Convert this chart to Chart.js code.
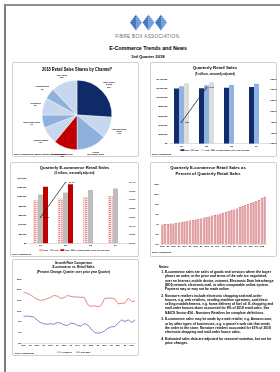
<!DOCTYPE html>
<html>
<head>
<meta charset="utf-8">
<title>E-Commerce Trends and News</title>
<script src="https://cdn.jsdelivr.net/npm/chart.js@4.4.1/dist/chart.umd.min.js"></script>
<style>
  html, body { margin: 0; padding: 0; background: #fff; }
  body { width: 280px; height: 372px; position: relative; overflow: hidden; font-family: "Liberation Sans", Arial, sans-serif; color: #000; }
  .frame { position: absolute; left: 4px; top: 4px; width: 300px; height: 400px; border-left: 2px solid #7c7c7c; border-top: 2px solid #8e8e8e; }
  .panel { position: absolute; border: 1px solid #cfcfcf; border-radius: 2px; box-sizing: border-box; }
  .box { position: absolute; }
  .src { position: absolute; font-size: 1.7px; font-weight: bold; white-space: nowrap; }
  .hdr { position: absolute; left: 0; width: 296px; text-align: center; white-space: nowrap; }
  .notes { position: absolute; left: 159px; top: 265px; width: 116px; font-size: 3.3px; line-height: 4.2px; font-weight: bold; }
  .notes ol { margin: 1px 0 0 0; padding-left: 6px; }
  .notes li { margin-bottom: 2.6px; }
</style>
</head>
<body>
<div class="frame"></div>

<svg style="position:absolute;left:130px;top:14px" width="37" height="17" viewBox="0 0 37 17">
  <defs>
    <pattern id="stD" width="2" height="1.9" patternUnits="userSpaceOnUse"><rect width="2" height="1.5" fill="#1a56ac"/></pattern>
    <pattern id="stL" width="2" height="1.9" patternUnits="userSpaceOnUse"><rect width="2" height="1.5" fill="#4f86d3"/></pattern>
  </defs>
  <polygon points="6,0.5 6,16.5 0,8.5" fill="url(#stD)"/>
  <polygon points="6,0.5 12,8.5 6,16.5" fill="url(#stL)"/>
  <polygon points="18.5,0.5 18.5,16.5 12.5,8.5" fill="url(#stD)"/>
  <polygon points="18.5,0.5 24.5,8.5 18.5,16.5" fill="url(#stL)"/>
  <polygon points="31,0.5 31,16.5 25,8.5" fill="url(#stD)"/>
  <polygon points="31,0.5 37,8.5 31,16.5" fill="url(#stL)"/>
</svg>
<div class="hdr" style="top:34px;font-size:4.6px;color:#6b6b6b;letter-spacing:0.35px">FIBRE BOX ASSOCIATION.</div>
<div class="hdr" style="top:45px;font-size:5.3px;font-weight:bold">E-Commerce Trends and News</div>
<div class="hdr" style="top:53.5px;font-size:4.2px;font-weight:bold">3rd Quarter 2018</div>

<div class="panel" style="left:12px;top:62px;width:127px;height:95px"></div>
<div class="panel" style="left:150px;top:62px;width:127px;height:95px"></div>
<div class="panel" style="left:10px;top:162px;width:129px;height:95px"></div>
<div class="panel" style="left:150px;top:162px;width:127px;height:95px"></div>
<div class="panel" style="left:12px;top:259px;width:127px;height:97px"></div>

<div class="box" style="left:12px;top:62px;width:127px;height:95px"><canvas id="pie"></canvas></div>
<div class="box" style="left:150px;top:62px;width:130px;height:99px"><canvas id="retail"></canvas></div>
<div class="box" style="left:10px;top:162px;width:129px;height:99px"><canvas id="ecom"></canvas></div>
<div class="box" style="left:150px;top:162px;width:130px;height:95px"><canvas id="pct"></canvas></div>
<div class="box" style="left:12px;top:259px;width:127px;height:104px"><canvas id="growth"></canvas></div>

<div class="src" style="left:14px;top:152.5px">Source: Census Bureau; *Based on Monthly Retail Trade Survey</div>
<div class="src" style="left:152px;top:152.5px">Source: Census Bureau</div>
<div class="src" style="left:12px;top:252.5px">Source: Census Bureau</div>
<div class="src" style="left:152px;top:250.5px">Source: Census Bureau</div>
<div class="src" style="left:15px;top:351.5px">Source: Census Bureau</div>

<div class="notes">
  <div>Notes:</div>
  <ol>
    <li>E-commerce sales are sales of goods and services where the buyer places an order, or the price and terms of the sale are negotiated, over an Internet, mobile device, extranet, Electronic Data Interchange (EDI) network, electronic mail, or other comparable online system. Payment may or may not be made online.</li>
    <li>Nonstore retailers include electronic shopping and mail-order houses, e.g. web retailers, vending machine operators, and direct selling establishments, e.g. home delivery of fuel oil. E-shopping and mail-order houses alone accounted for 9% of 2018 retail sales. See NAICS Sector 454 - Nonstore Retailers for complete definitions.</li>
    <li>E-commerce sales may be made by a web retailer, e.g. Amazon.com, or by other types of businesses, e.g. a grocer's web site that sends the order to the store. Nonstore retailers accounted for 61% of 2018 electronic shopping and mail-order house sales.</li>
    <li>Estimated sales data are adjusted for seasonal variation, but not for price changes.</li>
  </ol>
</div>

<script>
// ---- data ----
const pieLabels = ['Motor vehicle\n& parts', 'Food & Beverage\nstores', 'General\nmerchandise stores', 'E-Shopping & Mail Order', 'Gasoline stations', 'Bldg/ supply stores', 'Drug stores', 'Clothing stores', 'Other stores'];
const pieShares = [26, 10, 14, 11, 8, 6, 8, 5, 12];
const pieColors = ['#0f2a66', '#c7d8ee', '#8eb0dd', '#c00000', '#c7d8ee', '#8eb0dd', '#c7d8ee', '#8eb0dd', '#c7d8ee'];

const retailQuarters = ['Q1', 'Q2', 'Q3', 'Q4'];
const retail2016 = [1195000, 1200000, 1212000, 1228000];
const retail2017 = [1245000, 1262000, 1270000, 1298000];
const retail2018 = [1306000, 1328000, null, null];
const retailChange = [4.5, 6.1, null, null];

const ecomQuarters = ['Q1', 'Q2', 'Q3', 'Q4'];
const ecom2016 = [92600, 96300, 99800, 101300];
const ecom2017 = [104900, 109200, 114100, 117700];
const ecom2018 = [121400, 126400, null, null];
const ecomChange = [15.6, 16.4, null, null];

const pctQuarters = [
  '2009 Q1', '2009 Q2', '2009 Q3', '2009 Q4', '2010 Q1', '2010 Q2', '2010 Q3', '2010 Q4',
  '2011 Q1', '2011 Q2', '2011 Q3', '2011 Q4', '2012 Q1', '2012 Q2', '2012 Q3', '2012 Q4',
  '2013 Q1', '2013 Q2', '2013 Q3', '2013 Q4', '2014 Q1', '2014 Q2', '2014 Q3', '2014 Q4',
  '2015 Q1', '2015 Q2', '2015 Q3', '2015 Q4', '2016 Q1', '2016 Q2', '2016 Q3', '2016 Q4',
  '2017 Q1', '2017 Q2', '2017 Q3', '2017 Q4', '2018 Q1', '2018 Q2'
];
const pctShare = [
  3.9, 4.0, 4.0, 4.1, 4.1, 4.2, 4.3, 4.4,
  4.5, 4.6, 4.7, 4.8, 4.9, 5.0, 5.1, 5.3,
  5.4, 5.5, 5.7, 5.8, 5.9, 6.1, 6.2, 6.4,
  6.6, 6.8, 6.9, 7.1, 7.4, 7.6, 7.8, 8.0,
  8.2, 8.4, 8.6, 8.8, 9.2, 9.5
];

const growthQuarters = [
  '2010 Q1', '2010 Q2', '2010 Q3', '2010 Q4', '2011 Q1', '2011 Q2', '2011 Q3', '2011 Q4',
  '2012 Q1', '2012 Q2', '2012 Q3', '2012 Q4', '2013 Q1', '2013 Q2', '2013 Q3', '2013 Q4',
  '2014 Q1', '2014 Q2', '2014 Q3', '2014 Q4', '2015 Q1', '2015 Q2', '2015 Q3', '2015 Q4',
  '2016 Q1', '2016 Q2', '2016 Q3', '2016 Q4', '2017 Q1', '2017 Q2', '2017 Q3', '2017 Q4',
  '2018 Q1', '2018 Q2'
];
const growthEcom = [
  18.7, 18.4, 17.7, 16.6, 15.6, 15.0, 15.2, 15.8,
  16.4, 17.3, 17.0, 15.9, 16.2, 17.3, 16.9, 16.6,
  16.6, 16.4, 16.4, 13.0, 12.2, 12.5, 12.0, 12.7,
  15.9, 16.1, 16.1, 15.8, 13.4, 13.6, 13.7, 16.1,
  14.5, 14.7
];
const growthRetail = [
  7.5, 7.7, 7.5, 7.3, 5.9, 4.7, 4.1, 3.9,
  4.1, 3.9, 4.7, 4.4, 3.6, 3.3, 4.4, 4.2,
  3.3, 3.0, 4.2, 3.6, 1.7, 0.2, -0.3, 0.0,
  0.8, 2.0, 2.7, 2.8, 4.4, 5.9, 5.2, 5.9,
  4.7, 5.9
];

// ---- defaults ----
Chart.defaults.font.family = '"Liberation Sans", Arial, sans-serif';
Chart.defaults.font.size = 2.2;
Chart.defaults.font.weight = 'bold';
Chart.defaults.color = '#000';
Chart.defaults.animation = false;
Chart.defaults.responsive = true;
Chart.defaults.maintainAspectRatio = false;
Chart.defaults.devicePixelRatio = 1;
Chart.defaults.plugins.tooltip.enabled = false;
Chart.defaults.plugins.legend.display = false;

const noGrid = { display: false, drawTicks: false, tickLength: 0 };
const baseLine = { color: '#bfbfbf', width: 0.5 };

const fmtMoney = v => '$' + v.toLocaleString('en-US');
const quarterTick = function (v) {
  const lab = this.getLabelForValue(v);
  if (lab.endsWith('Q1')) return lab.slice(0, 4);
  if (lab.endsWith('Q3')) return 'Q3';
  return '';
};

// labels outside the pie slices
const pieOutLabels = {
  id: 'pieOutLabels',
  afterDatasetsDraw(chart) {
    const ctx = chart.ctx;
    const meta = chart.getDatasetMeta(0);
    const vals = chart.data.datasets[0].data;
    const lh = 2.3;
    ctx.save();
    ctx.font = 'bold 1.8px "Liberation Sans", Arial';
    ctx.fillStyle = '#000';
    ctx.textAlign = 'center';
    ctx.textBaseline = 'middle';
    meta.data.forEach((arc, i) => {
      const lines = chart.data.labels[i].split('\n').concat(vals[i] + '%');
      const w = Math.max(...lines.map(l => ctx.measureText(l).width));
      const h = lines.length * lh;
      const a = (arc.startAngle + arc.endAngle) / 2;
      const c = Math.cos(a), s = Math.sin(a);
      const d = arc.outerRadius + 2.5 + Math.abs(c) * w / 2 + Math.abs(s) * h / 2;
      const x = arc.x + c * d, y = arc.y + s * d;
      lines.forEach((l, k) => ctx.fillText(l, x, y - h / 2 + lh * (k + 0.5)));
    });
    ctx.restore();
  }
};

// % labels next to the points of the change line
const pointLabels = {
  id: 'pointLabels',
  afterDatasetsDraw(chart) {
    const ctx = chart.ctx;
    ctx.save();
    ctx.font = 'bold 2px "Liberation Sans", Arial';
    ctx.fillStyle = '#000';
    ctx.textAlign = 'left';
    ctx.textBaseline = 'middle';
    chart.data.datasets.forEach((ds, i) => {
      if (!ds.valueLabel) return;
      chart.getDatasetMeta(i).data.forEach((pt, j) => {
        if (ds.data[j] == null) return;
        ctx.fillText(ds.data[j].toFixed(1) + '%', pt.x + 3, pt.y);
      });
    });
    ctx.restore();
  }
};

// dashed pink fill for the 2016 e-commerce bars
function pinkPattern() {
  const c = document.createElement('canvas');
  c.width = 3; c.height = 2;
  const g = c.getContext('2d');
  g.fillStyle = '#fbe0e0';
  g.fillRect(0, 0, 3, 2);
  g.fillStyle = '#e58d8d';
  g.fillRect(0, 0, 2, 1);
  return g.createPattern(c, 'repeat');
}

const legendOpts = (pad) => ({
  display: true,
  position: 'bottom',
  labels: {
    font: { size: 1.7, weight: 'bold' },
    usePointStyle: true,
    pointStyleWidth: 4,
    boxHeight: 2,
    padding: pad,
    sort: (a, b) => a.datasetIndex - b.datasetIndex
  }
});

// ---- pie ----
new Chart(document.getElementById('pie'), {
  type: 'pie',
  data: {
    labels: pieLabels,
    datasets: [{ data: pieShares, backgroundColor: pieColors, borderColor: '#fff', borderWidth: 0.4 }]
  },
  options: {
    layout: { padding: { left: 30, right: 27, top: 0, bottom: 7 } },
    plugins: {
      title: { display: true, text: '2018 Retail Sales Shares by Channel*', font: { size: 4.6, weight: 'bold' }, padding: { top: 5.2, bottom: 7.2 } }
    }
  },
  plugins: [pieOutLabels]
});

// ---- quarterly retail sales ----
new Chart(document.getElementById('retail'), {
  type: 'bar',
  data: {
    labels: retailQuarters,
    datasets: [
      { label: '2016', data: retail2016, backgroundColor: '#102c6c', pointStyle: 'rect' },
      { label: '2017', data: retail2017, backgroundColor: '#8fb3e0', pointStyle: 'rect' },
      { label: '2018', data: retail2018, backgroundColor: '#dcdcdc', pointStyle: 'rect' },
      { type: 'line', label: '% Change Quarter Year to Year (right axis)', data: retailChange, yAxisID: 'y1',
        borderColor: '#262626', backgroundColor: '#262626', borderWidth: 0.8, pointRadius: 0.6, pointStyle: 'line', order: -1, valueLabel: true }
    ]
  },
  options: {
    datasets: { bar: { categoryPercentage: 0.6, barPercentage: 1 } },
    layout: { padding: 0 },
    plugins: {
      title: { display: true, text: 'Quarterly Retail Sales', font: { size: 4.3, weight: 'bold' }, padding: { top: 3.5, bottom: 0.3 } },
      subtitle: { display: true, text: '($ millions, seasonally adjusted)', font: { size: 2.6, weight: 'bold' }, padding: { top: 1.5, bottom: 3.4 } },
      legend: legendOpts(1.5)
    },
    scales: {
      x: { grid: noGrid, border: baseLine,
           ticks: { font: { size: 2.2 }, padding: 1, maxRotation: 0 }, afterFit(s) { s.height = 4; } },
      y: { min: 0, max: 1400000, grid: noGrid, border: { display: false },
           ticks: { stepSize: 200000, callback: fmtMoney, padding: 1.5 }, afterFit(s) { s.width = 19; } },
      y1: { position: 'right', min: 3.5, max: 6.5, grid: noGrid, border: { display: false },
            ticks: { stepSize: 0.25, callback: v => v.toFixed(2) + '%', padding: 1.2 }, afterFit(s) { s.width = 11; } }
    }
  },
  plugins: [pointLabels]
});

// ---- quarterly e-commerce sales ----
new Chart(document.getElementById('ecom'), {
  type: 'bar',
  data: {
    labels: ecomQuarters,
    datasets: [
      { label: '2016', data: ecom2016, backgroundColor: pinkPattern(), borderColor: '#e58c8c', borderWidth: 0.4, pointStyle: 'rect' },
      { label: '2017', data: ecom2017, backgroundColor: '#bdbdbd', pointStyle: 'rect' },
      { label: '2018', data: ecom2018, backgroundColor: '#c00000', pointStyle: 'rect' },
      { type: 'line', label: '% Change Quarter Year to Year (right axis)', data: ecomChange, yAxisID: 'y1',
        borderColor: '#262626', backgroundColor: '#262626', borderWidth: 0.8, pointRadius: 0.6, pointStyle: 'line', order: -1, valueLabel: true }
    ]
  },
  options: {
    datasets: { bar: { categoryPercentage: 0.6, barPercentage: 1 } },
    plugins: {
      title: { display: true, text: 'Quarterly E-commerce Retail Sales', font: { size: 4.2, weight: 'bold' }, padding: { top: 3.5, bottom: 0.3 } },
      subtitle: { display: true, text: '($ millions, seasonally adjusted)', font: { size: 2.6, weight: 'bold' }, padding: { top: 1.2, bottom: 2.8 } },
      legend: legendOpts(1.8)
    },
    scales: {
      x: { grid: noGrid, border: baseLine,
           ticks: { font: { size: 2.2 }, padding: 1, maxRotation: 0 }, afterFit(s) { s.height = 4; } },
      y: { min: 0, max: 140000, grid: noGrid, border: { display: false },
           ticks: { stepSize: 20000, callback: fmtMoney, padding: 1.5 }, afterFit(s) { s.width = 18; } },
      y1: { position: 'right', min: 15.0, max: 16.5, grid: noGrid, border: { display: false },
            ticks: { stepSize: 0.1, callback: v => v.toFixed(1) + '%', padding: 1.2 }, afterFit(s) { s.width = 11; } }
    }
  },
  plugins: [pointLabels]
});

// ---- e-commerce share of retail ----
new Chart(document.getElementById('pct'), {
  type: 'bar',
  data: {
    labels: pctQuarters,
    datasets: [{ label: 'E-commerce % of retail', data: pctShare, backgroundColor: '#e39a9d', borderColor: '#b83a41', borderWidth: 0.5 }]
  },
  options: {
    datasets: { bar: { categoryPercentage: 1, barPercentage: 0.8 } },
    layout: { padding: { right: 14, bottom: 9 } },
    plugins: {
      title: { display: true, text: ['Quarterly E-commerce Retail Sales as', 'Percent of Quarterly Retail Sales'],
               font: { size: 4.2, weight: 'bold', lineHeight: 1.43 }, padding: { top: 3, bottom: 7 } }
    },
    scales: {
      x: { grid: noGrid, border: baseLine,
           ticks: { font: { size: 1.9 }, padding: 1, maxRotation: 0, autoSkip: false, callback: quarterTick },
           afterFit(s) { s.height = 4; } },
      y: { min: 0, max: 12, grid: noGrid, border: { display: false },
           ticks: { stepSize: 2, callback: v => v + '%', font: { size: 2.4 }, padding: 2 }, afterFit(s) { s.width = 11; } }
    }
  }
});

// ---- growth rate comparison ----
new Chart(document.getElementById('growth'), {
  type: 'line',
  data: {
    labels: growthQuarters,
    datasets: [
      { label: 'E-Commerce', data: growthEcom, borderColor: '#e07a78', backgroundColor: '#e07a78', borderWidth: 0.9, pointRadius: 0, pointStyle: 'line' },
      { label: 'Retail Sales', data: growthRetail, borderColor: '#6a80c6', backgroundColor: '#6a80c6', borderWidth: 0.9, pointRadius: 0, pointStyle: 'line' }
    ]
  },
  options: {
    layout: { padding: { right: 4 } },
    plugins: {
      title: { display: true, text: ['Growth Rate Comparison', 'E-commerce vs. Retail Sales', '(Percent Change: Quarter over prior year Quarter)'],
               font: { size: 3.1, weight: 'bold', lineHeight: 1.35 }, padding: { top: 2.2, bottom: 5.2 } },
      legend: legendOpts(4)
    },
    scales: {
      x: { grid: noGrid, border: baseLine,
           ticks: { font: { size: 1.8 }, padding: 1, maxRotation: 0, autoSkip: false, callback: quarterTick },
           afterFit(s) { s.height = 4; } },
      y: { min: -5, max: 25, grid: noGrid, border: { display: false },
           ticks: { stepSize: 5, callback: v => v + '%', font: { size: 2.2 }, padding: 2 }, afterFit(s) { s.width = 11.5; } }
    }
  }
});
</script>
</body>
</html>
